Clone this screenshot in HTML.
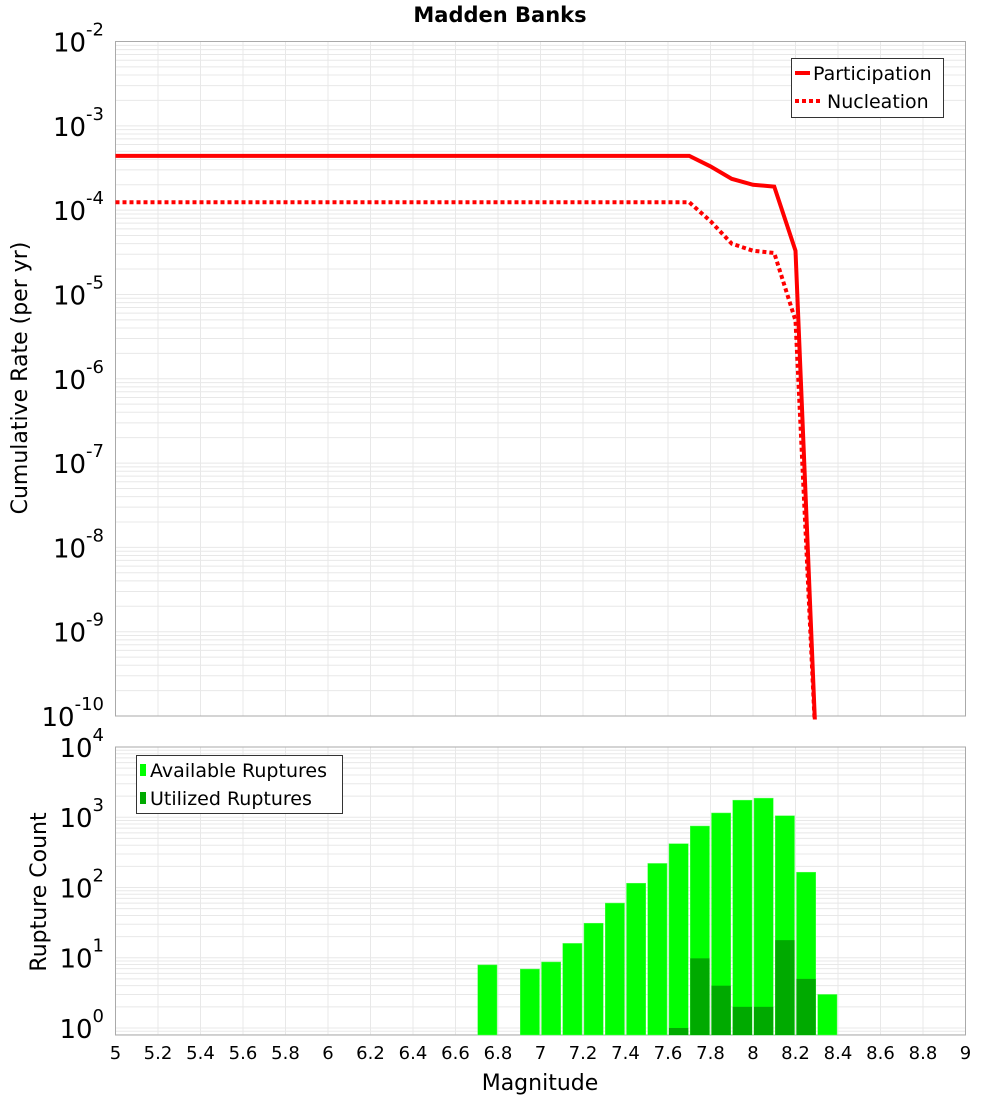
<!DOCTYPE html>
<html><head><meta charset="utf-8"><style>
html,body{margin:0;padding:0;background:#fff}
svg{display:block;font-family:"DejaVu Sans","Liberation Sans",sans-serif}
</style></head><body>
<svg id="c" width="1000" height="1100" viewBox="0 0 1000 1100" xmlns="http://www.w3.org/2000/svg">
<defs><clipPath id="cp"><rect x="115.5" y="41.5" width="850" height="678"/></clipPath></defs>
<text x="500" y="22" text-anchor="middle" font-size="21" font-weight="bold">Madden Banks</text>
<g id="gtop"></g><g id="gbot"></g>
<text x="540" y="1090" text-anchor="middle" font-size="22">Magnitude</text>
<text transform="translate(27,378) rotate(-90)" text-anchor="middle" font-size="22">Cumulative Rate (per yr)</text>
<text transform="translate(46,892) rotate(-90)" text-anchor="middle" font-size="22">Rupture Count</text>
</svg>
<script>
const mags = [5,5.1,5.2,5.3,5.4,5.5,5.6,5.7,5.8,5.9,6,6.1,6.2,6.3,6.4,6.5,6.6,6.7,6.8,6.9,7,7.1,7.2,7.3,7.4,7.5,7.6,7.7,7.8,7.9,8.0,8.1,8.2,8.3];
const participation = [4.4e-4,4.4e-4,4.4e-4,4.4e-4,4.4e-4,4.4e-4,4.4e-4,4.4e-4,4.4e-4,4.4e-4,4.4e-4,4.4e-4,4.4e-4,4.4e-4,4.4e-4,4.4e-4,4.4e-4,4.4e-4,4.4e-4,4.4e-4,4.4e-4,4.4e-4,4.4e-4,4.4e-4,4.4e-4,4.4e-4,4.4e-4,4.4e-4,3.3e-4,2.35e-4,2.0e-4,1.9e-4,3.3e-5,1e-16];
const nucleation = [1.24e-4,1.24e-4,1.24e-4,1.24e-4,1.24e-4,1.24e-4,1.24e-4,1.24e-4,1.24e-4,1.24e-4,1.24e-4,1.24e-4,1.24e-4,1.24e-4,1.24e-4,1.24e-4,1.24e-4,1.24e-4,1.24e-4,1.24e-4,1.24e-4,1.24e-4,1.24e-4,1.24e-4,1.24e-4,1.24e-4,1.24e-4,1.24e-4,7.4e-5,4.0e-5,3.3e-5,3.1e-5,4.9e-6,1e-16];
const binCenters = [6.75,6.95,7.05,7.15,7.25,7.35,7.45,7.55,7.65,7.75,7.85,7.95,8.05,8.15,8.25,8.35];
const available = [7.9,6.9,8.7,16,31,60,115,220,420,750,1150,1750,1870,1050,165,3.0];
const utilized = [0,0,0,0,0,0,0,0,1.0,9.8,4,2,2,17.8,5,0];
const xTicks = ["5","5.2","5.4","5.6","5.8","6","6.2","6.4","6.6","6.8","7","7.2","7.4","7.6","7.8","8","8.2","8.4","8.6","8.8","9"];
const topExps = [-2,-3,-4,-5,-6,-7,-8,-9,-10];
const botExps = [0,1,2,3,4];

const NS="http://www.w3.org/2000/svg";
const L=115.5,R=965.5;
const X=m=>L+(m-5)*(R-L)/4;
const T0=41.5,T1=716;
const Yt=v=>T0+(-2-Math.log10(v))*(T1-T0)/8;
const B0=747,B1=1035;
const Yb=v=>B0+(4-Math.log10(v))*(B1-B0)/4.1;
function mk(tag,attrs,parent){const e=document.createElementNS(NS,tag);for(const k in attrs)e.setAttribute(k,attrs[k]);parent.appendChild(e);return e;}
const gTop=document.getElementById('gtop'),gBot=document.getElementById('gbot');

function grid(g,y0,y1,yf,lo,hi){
  for(let d=lo;d<hi;d++)for(let k=1;k<10;k++){const y=yf(k*Math.pow(10,d));if(y<y0||y>y1)continue;
    const ln=mk('line',{x1:L,x2:R,y1:y,y2:y,stroke:'#e8e8e8','stroke-width':1},g);
    
    }
  xTicks.forEach(t=>{const x=X(+t);const ln=mk('line',{x1:x,x2:x,y1:y0,y2:y1,stroke:'#e8e8e8','stroke-width':1},g);
    
    });
}
grid(gTop,T0,T1,Yt,-10,-2);
grid(gBot,B0,B1,Yb,-1,4);
const f1=mk('rect',{x:L,y:T0,width:R-L,height:T1-T0,fill:'none',stroke:'#aaa'},gTop);


const f2=mk('rect',{x:L,y:B0,width:R-L,height:B1-B0,fill:'none',stroke:'#aaa'},gBot);



function ylab(g,y,e,nm){const t=mk('text',{x:104,y:y+10,'text-anchor':'end','font-size':26},g);
  
  
  t.innerHTML='10<tspan dy="-16" font-size="18">'+e+'</tspan>';}
topExps.forEach(e=>ylab(gTop,Yt(Math.pow(10,e)),e,'y-tick-label-rate'));
botExps.forEach(e=>ylab(gBot,Yb(Math.pow(10,e)),e,'y-tick-label-count'));
xTicks.forEach(t=>{const tx=mk('text',{x:X(+t),y:1059,'text-anchor':'middle','font-size':18},gBot);
  
  
  tx.textContent=t;});

function line(vals,dash,nm){const pts=mags.map((m,i)=>X(m)+','+Math.min(Yt(vals[i]),T1+50)).join(' ');
  const p=mk('polyline',{points:pts,fill:'none',stroke:'#ff0000','stroke-width':4,'clip-path':'url(#cp)'},gTop);
  if(dash)p.setAttribute('stroke-dasharray','4 3');
  
  }
line(participation,false,'participation-line');
line(nucleation,true,'nucleation-line');

const bw=(R-L)/40;
binCenters.forEach((c,i)=>{
  const x=X(c)-bw/2+1,w=bw-2;
  if(available[i]>0){const y=Yb(available[i]);const r=mk('rect',{x:x,y:y,width:w,height:B1-y,fill:'#00ff00',stroke:'#55ff55','stroke-width':0.5},gBot);
    
    }
  if(utilized[i]>0){const y=Yb(utilized[i]);const r=mk('rect',{x:x,y:y,width:w,height:B1-y,fill:'#00aa00'},gBot);
    
    }
});

const lg1=mk('g',{},gTop);


mk('rect',{x:791.5,y:58.5,width:152,height:59,fill:'#fff',stroke:'#333'},lg1);
mk('line',{x1:795,x2:810,y1:73,y2:73,stroke:'#f00','stroke-width':4},lg1);
mk('line',{x1:795,x2:822,y1:101,y2:101,stroke:'#f00','stroke-width':4,'stroke-dasharray':'4 3'},lg1);
const a=mk('text',{x:813,y:80,'font-size':19},lg1);a.textContent='Participation';


const b=mk('text',{x:827,y:108,'font-size':19},lg1);b.textContent='Nucleation';


const lg2=mk('g',{},gBot);


mk('rect',{x:136.5,y:755.5,width:206,height:58,fill:'#fff',stroke:'#333'},lg2);
mk('rect',{x:140,y:764,width:6,height:12,fill:'#00ff00'},lg2);
mk('rect',{x:140,y:792,width:6,height:12,fill:'#00aa00'},lg2);
const c1=mk('text',{x:150,y:777,'font-size':19},lg2);c1.textContent='Available Ruptures';


const c2=mk('text',{x:150,y:805,'font-size':19},lg2);c2.textContent='Utilized Ruptures';


</script>
</body></html>
